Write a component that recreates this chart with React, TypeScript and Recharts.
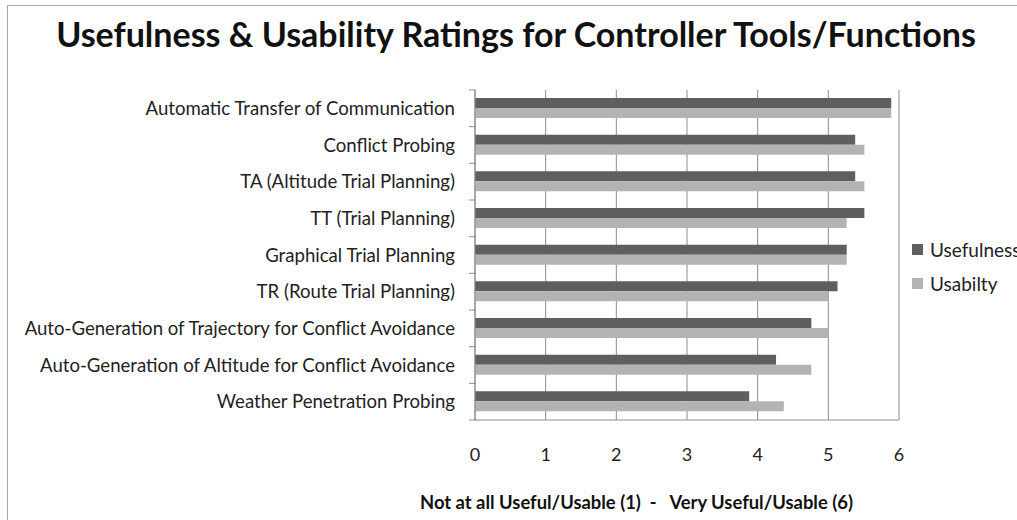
import React from "react";
import { BarChart, Bar, XAxis, YAxis, CartesianGrid } from "recharts";

const tools = [
  "Automatic Transfer of Communication",
  "Conflict Probing ",
  "TA (Altitude Trial Planning)",
  "TT (Trial Planning)",
  "Graphical Trial Planning",
  "TR (Route Trial Planning)",
  "Auto-Generation of Trajectory for Conflict Avoidance",
  "Auto-Generation of Altitude for Conflict Avoidance",
  "Weather Penetration Probing ",
];
const usefulness = [5.89, 5.38, 5.38, 5.51, 5.26, 5.13, 4.76, 4.26, 3.88];
const usability = [5.89, 5.51, 5.51, 5.26, 5.26, 5.0, 5.0, 4.76, 4.37];
const xTicks = [0, 1, 2, 3, 4, 5, 6];
const legendItems = [
  { label: "Usefulness", color: "#5f5f5f" },
  { label: "Usabilty", color: "#b3b3b3" },
];

const data = tools.map((name, i) => ({ name, usefulness: usefulness[i], usability: usability[i] }));

const FONT = "Lato, 'Open Sans', sans-serif";
const GRID = "#8c8c8c";

function CategoryTick(props: any) {
  const { x, y, payload, index } = props;
  const half = 330 / tools.length / 2;
  return (
    <g>
      <line x1={x + 14} x2={x + 21} y1={y - half} y2={y - half} stroke={GRID} />
      {index === tools.length - 1 && (
        <line x1={x + 14} x2={x + 21} y1={y + half} y2={y + half} stroke={GRID} />
      )}
      <text x={x} y={y} dy="0.35em" textAnchor="end" fill="#222" fontSize={18.6} fontFamily={FONT}>
        {payload.value}
      </text>
    </g>
  );
}

export default function App() {
  return (
    <div style={{ position: "absolute", left: 0, top: 0, width: 1017, height: 520, overflow: "hidden", background: "#fff" }}>
      <div style={{ position: "absolute", left: 7, top: 5, width: 1020, height: 520, border: "1px solid #a8a8a8" }} />
      <div
        style={{
          position: "absolute",
          left: 0,
          width: 1032,
          top: 12,
          textAlign: "center",
          fontFamily: FONT,
          fontWeight: 700,
          fontSize: 34,
          lineHeight: "44px",
          color: "#111",
          whiteSpace: "nowrap",
        }}
      >
        Usefulness &amp; Usability Ratings for Controller Tools/Functions
      </div>
      <div
        style={{
          position: "absolute",
          left: 0,
          width: 1273,
          top: 490,
          textAlign: "center",
          fontFamily: FONT,
          fontWeight: 700,
          fontSize: 18.4,
          lineHeight: "24px",
          color: "#111",
          whiteSpace: "pre",
        }}
      >
        {"Not at all Useful/Usable (1)  -   Very Useful/Usable (6)"}
      </div>
      <div style={{ position: "absolute", left: 912, top: 232, fontFamily: FONT, fontSize: 19, color: "#222" }}>
        {legendItems.map((it) => (
          <div key={it.label} style={{ display: "flex", alignItems: "center", height: 34, whiteSpace: "nowrap" }}>
            <span style={{ width: 11, height: 11, background: it.color, marginRight: 7, display: "inline-block" }} />
            {it.label}
          </div>
        ))}
      </div>
      <div style={{ position: "absolute", left: 0, top: 0 }}>
        <BarChart
          width={1017}
          height={520}
          data={data}
          layout="vertical"
          margin={{ top: 90, right: 118, bottom: 70, left: 0 }}
          barCategoryGap={8}
          barGap={0}
        >
          <CartesianGrid horizontal={false} stroke={GRID} strokeWidth={1} />
          <XAxis
            type="number"
            domain={[0, 6]}
            ticks={xTicks}
            tickLine={false}
            axisLine={{ stroke: GRID }}
            tick={{ fill: "#222", fontSize: 18, fontFamily: FONT }}
            tickMargin={22}
            height={30}
          />
          <YAxis
            type="category"
            dataKey="name"
            width={475}
            tickLine={false}
            axisLine={{ stroke: GRID }}
            tick={<CategoryTick />}
            tickMargin={14}
            interval={0}
          />
          <Bar dataKey="usefulness" name="Usefulness" fill="#5f5f5f" isAnimationActive={false} />
          <Bar dataKey="usability" name="Usabilty" fill="#b3b3b3" isAnimationActive={false} />
        </BarChart>
      </div>
    </div>
  );
}
